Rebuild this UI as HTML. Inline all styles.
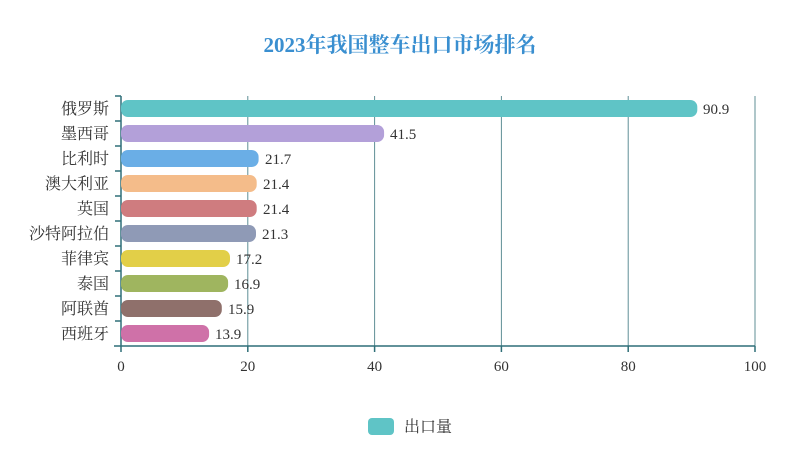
<!DOCTYPE html>
<html><head><meta charset="utf-8"><style>body{margin:0;background:#fff}</style></head><body>
<svg width="800" height="453" xmlns="http://www.w3.org/2000/svg" font-family="Liberation Serif, Noto Serif CJK SC, serif">
<rect width="800" height="453" fill="#fff"/>
<text x="400" y="52" text-anchor="middle" font-size="21" font-weight="bold" fill="#3a8fd0">2023年我国整车出口市场排名</text>
<g stroke="#5f8f96" stroke-width="1">
<line x1="247.8" y1="96" x2="247.8" y2="346"/>
<line x1="374.6" y1="96" x2="374.6" y2="346"/>
<line x1="501.4" y1="96" x2="501.4" y2="346"/>
<line x1="628.2" y1="96" x2="628.2" y2="346"/>
<line x1="755" y1="96" x2="755" y2="346"/>
</g>
<g stroke="#2f6f78" stroke-width="1.5">
<line x1="121" y1="96" x2="121" y2="346"/>
<line x1="114" y1="346" x2="755" y2="346"/>
<line x1="115" y1="96" x2="121" y2="96"/><line x1="115" y1="121" x2="121" y2="121"/><line x1="115" y1="146" x2="121" y2="146"/><line x1="115" y1="171" x2="121" y2="171"/><line x1="115" y1="196" x2="121" y2="196"/><line x1="115" y1="221" x2="121" y2="221"/><line x1="115" y1="246" x2="121" y2="246"/><line x1="115" y1="271" x2="121" y2="271"/><line x1="115" y1="296" x2="121" y2="296"/><line x1="115" y1="321" x2="121" y2="321"/>
<line x1="121" y1="346" x2="121" y2="352"/><line x1="247.8" y1="346" x2="247.8" y2="352"/><line x1="374.6" y1="346" x2="374.6" y2="352"/><line x1="501.4" y1="346" x2="501.4" y2="352"/><line x1="628.2" y1="346" x2="628.2" y2="352"/><line x1="755" y1="346" x2="755" y2="352"/>
</g>
<g font-size="15" fill="#333">
<rect x="121" y="100" width="576.3" height="17" rx="7" fill="#5fc4c6"/><text x="703" y="114">90.9</text>
<rect x="121" y="125" width="263.1" height="17" rx="7" fill="#b3a0d9"/><text x="390" y="139">41.5</text>
<rect x="121" y="150" width="137.6" height="17" rx="7" fill="#6aaee6"/><text x="265" y="164">21.7</text>
<rect x="121" y="175" width="135.7" height="17" rx="7" fill="#f4bc8a"/><text x="263" y="189">21.4</text>
<rect x="121" y="200" width="135.7" height="17" rx="7" fill="#cf7c7f"/><text x="263" y="214">21.4</text>
<rect x="121" y="225" width="135" height="17" rx="7" fill="#8f9ab6"/><text x="262" y="239">21.3</text>
<rect x="121" y="250" width="109" height="17" rx="7" fill="#e2cf48"/><text x="236" y="264">17.2</text>
<rect x="121" y="275" width="107.1" height="17" rx="7" fill="#9fb55f"/><text x="234" y="289">16.9</text>
<rect x="121" y="300" width="100.8" height="17" rx="7" fill="#8f706b"/><text x="228" y="314">15.9</text>
<rect x="121" y="325" width="88.1" height="17" rx="7" fill="#cf71a8"/><text x="215" y="339">13.9</text>
</g>
<g font-size="16" fill="#333" text-anchor="end">
<text x="109" y="114">俄罗斯</text><text x="109" y="139">墨西哥</text><text x="109" y="164">比利时</text><text x="109" y="189">澳大利亚</text><text x="109" y="214">英国</text><text x="109" y="239">沙特阿拉伯</text><text x="109" y="264">菲律宾</text><text x="109" y="289">泰国</text><text x="109" y="314">阿联酋</text><text x="109" y="339">西班牙</text>
</g>
<g font-size="15" fill="#333" text-anchor="middle">
<text x="121" y="371">0</text><text x="247.8" y="371">20</text><text x="374.6" y="371">40</text><text x="501.4" y="371">60</text><text x="628.2" y="371">80</text><text x="755" y="371">100</text>
</g>
<rect x="368" y="418" width="26" height="17" rx="4" fill="#5fc4c6"/>
<text x="404" y="432" font-size="16" fill="#333">出口量</text>
</svg>
</body></html>
